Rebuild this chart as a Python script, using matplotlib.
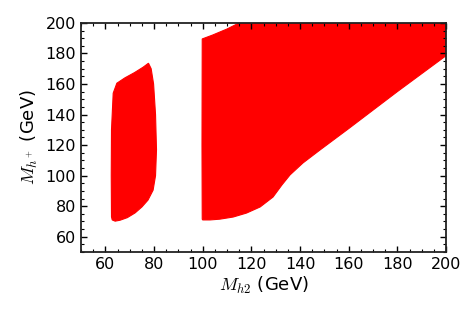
import matplotlib
matplotlib.use("Agg")
import matplotlib.pyplot as plt
from matplotlib.ticker import MultipleLocator

plt.rcParams['mathtext.fontset'] = 'cm'

# boundary of the allowed region near M_h2 ~ 63-80 GeV
left_x = [62.5, 62.4, 62.5, 63.2, 64.7, 68.0, 72.0, 75.5, 77.7, 78.8, 79.8, 80.6, 81.0, 80.6, 79.6, 77.5, 75.0, 72.2, 69.0, 66.0, 64.0, 62.8]
left_y = [73.0, 100.0, 130.0, 154.0, 160.5, 164.0, 167.5, 171.0, 173.6, 170.0, 160.0, 140.0, 117.0, 100.0, 90.5, 84.0, 79.5, 75.6, 72.5, 70.8, 70.2, 71.0]

# boundary of the allowed region for M_h2 >= 100 GeV
right_x = [99.8, 99.7, 99.8, 104.0, 110.0, 115.0, 200.0, 200.0, 180.0, 160.0, 148.2, 141.2, 135.9, 132.6, 128.9, 123.6, 118.0, 112.5, 107.0, 103.0, 100.0]
right_y = [71.5, 120.0, 189.5, 192.0, 196.0, 200.0, 200.0, 178.5, 155.0, 130.8, 116.8, 108.3, 100.5, 94.0, 86.0, 79.5, 75.5, 72.9, 71.5, 71.0, 71.0]

fig = plt.figure(figsize=(4.77, 3.18), dpi=100)
ax = fig.add_axes([0.17, 0.2075, 0.765, 0.7205])

ax.fill(left_x, left_y, color='red', lw=0.8, ec='red')
ax.fill(right_x, right_y, color='red', lw=0.8, ec='red')

ax.set_xlim(50, 200)
ax.set_ylim(50, 200)
ax.xaxis.set_major_locator(MultipleLocator(20))
ax.xaxis.set_minor_locator(MultipleLocator(5))
ax.yaxis.set_major_locator(MultipleLocator(20))
ax.yaxis.set_minor_locator(MultipleLocator(5))
ax.tick_params(which='both', direction='in', top=True, right=True, labelsize=11.5)
ax.tick_params(which='major', length=4.5, width=1)
ax.tick_params(which='minor', length=2.5, width=0.8)
for s in ax.spines.values():
    s.set_linewidth(1.3)
    s.set_color('#222222')

ax.set_xlabel(r'$M_{h2}$ (GeV)', fontsize=13, labelpad=2)
ax.set_ylabel(r'$M_{h^+}$ (GeV)', fontsize=13, labelpad=4)

fig.savefig('out.png', dpi=100)
